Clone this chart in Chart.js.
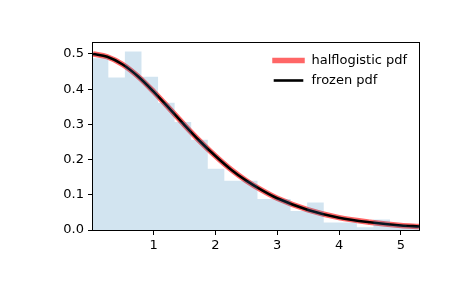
<!DOCTYPE html>
<html>
<head>
<meta charset="utf-8">
<script src="https://cdn.jsdelivr.net/npm/chart.js@4"></script>
<style>
  html, body { margin: 0; padding: 0; background: #fff; }
  #wrap { width: 465px; height: 288px; }
</style>
</head>
<body>
<div id="wrap"><canvas id="myChart" width="465" height="288"></canvas></div>
<script>
// values
const binEdges = [0, 0.268, 0.536, 0.804, 1.072, 1.34, 1.608, 1.876, 2.144, 2.412, 2.68,
  2.948, 3.216, 3.484, 3.752, 4.02, 4.288, 4.556, 4.824, 5.092, 5.36];
const binHeights = [0.488, 0.433, 0.507, 0.435, 0.361, 0.307, 0.256, 0.174, 0.140, 0.140,
  0.088, 0.088, 0.054, 0.078, 0.021, 0.021, 0.008, 0.030, 0.015, 0.011];

const pdfX = [0.02, 0.25, 0.5, 0.75, 1.0, 1.25, 1.5, 1.75, 2.0, 2.25, 2.5, 2.75, 3.0, 3.5, 4.0, 4.5, 5.0, 5.293];
const pdfY = [0.500, 0.492, 0.470, 0.436, 0.393, 0.346, 0.298, 0.252, 0.210, 0.172, 0.140, 0.113, 0.090, 0.057, 0.035, 0.022, 0.013, 0.010];

const xTicks = [1, 2, 3, 4, 5];
const yTicks = [0, 0.1, 0.2, 0.3, 0.4, 0.5];
const xRange = [0.02, 5.293];
const yRange = [0, 0.531];

const font = { family: "DejaVu Sans", size: 13 };

const histPoints = binEdges.map((e, i) => ({ x: e, y: i < binHeights.length ? binHeights[i] : 0 }));
const pdfPoints = pdfX.map((x, i) => ({ x: x, y: pdfY[i] }));

// matplotlib style box round the axes
const frame = {
  id: "frame",
  afterDatasetsDraw(chart) {
    const { ctx, chartArea: a } = chart;
    ctx.save();
    ctx.strokeStyle = "#000";
    ctx.lineWidth = 1;
    ctx.strokeRect(a.left - 0.5, a.top - 0.5, a.right - a.left + 1, a.bottom - a.top + 1);
    ctx.restore();
  },
};

// legend drawn in the upper right corner
const legendBox = {
  id: "legendBox",
  afterDraw(chart) {
    const { ctx } = chart;
    const items = chart.data.datasets.filter((d) => d.label);
    ctx.save();
    ctx.font = "13px 'DejaVu Sans'";
    ctx.textBaseline = "middle";
    ctx.fillStyle = "#000";
    items.forEach((d, i) => {
      const y = 60.5 + i * 20;
      ctx.strokeStyle = d.borderColor;
      ctx.lineWidth = d.borderWidth;
      ctx.lineCap = "square";
      ctx.beginPath();
      ctx.moveTo(275, y);
      ctx.lineTo(302, y);
      ctx.stroke();
      ctx.fillText(d.label, 311.5, y);
    });
    ctx.restore();
  },
};

const ctx = document.getElementById("myChart").getContext("2d");
new Chart(ctx, {
  type: "line",
  data: {
    datasets: [
      {
        data: histPoints,
        stepped: true,
        fill: "origin",
        backgroundColor: "rgba(31,119,180,0.2)",
        borderWidth: 0,
        pointRadius: 0,
        order: 0,
      },
      {
        label: "halflogistic pdf",
        data: pdfPoints,
        borderColor: "rgba(255,0,0,0.6)",
        borderWidth: 5.5,
        pointRadius: 0,
        cubicInterpolationMode: "monotone",
        order: 2,
      },
      {
        label: "frozen pdf",
        data: pdfPoints,
        borderColor: "#000",
        borderWidth: 2.6,
        pointRadius: 0,
        cubicInterpolationMode: "monotone",
        order: 1,
      },
    ],
  },
  options: {
    responsive: false,
    animation: false,
    layout: { padding: { top: 43, right: 46, left: 0, bottom: 0 } },
    plugins: { legend: { display: false }, tooltip: { enabled: false } },
    scales: {
      x: {
        type: "linear",
        min: xRange[0],
        max: xRange[1],
        afterBuildTicks: (s) => { s.ticks = xTicks.map((v) => ({ value: v })); },
        afterFit: (s) => { s.height = 58; },
        border: { display: false },
        grid: { drawOnChartArea: false, drawTicks: true, tickLength: 5, color: "#000" },
        ticks: { font: font, color: "#000", padding: 3, maxRotation: 0, callback: (v) => String(v) },
      },
      y: {
        type: "linear",
        min: yRange[0],
        max: yRange[1],
        afterBuildTicks: (s) => { s.ticks = yTicks.map((v) => ({ value: v })); },
        afterFit: (s) => { s.width = 93; },
        border: { display: false },
        grid: { drawOnChartArea: false, drawTicks: true, tickLength: 5, color: "#000" },
        ticks: { font: font, color: "#000", padding: 4, callback: (v) => v.toFixed(1) },
      },
    },
  },
  plugins: [frame, legendBox],
});
</script>
</body>
</html>
